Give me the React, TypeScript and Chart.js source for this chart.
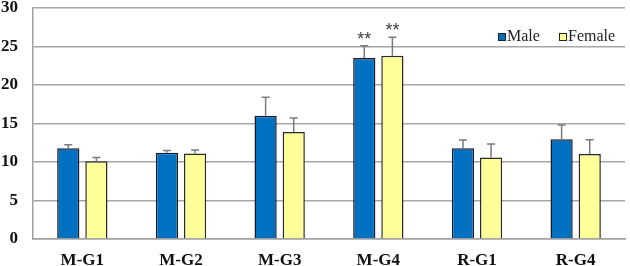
import React, { useEffect, useRef } from "react";
import { Chart, registerables } from "chart.js";

Chart.register(...registerables);

const categories = ["M-G1", "M-G2", "M-G3", "M-G4", "R-G1", "R-G4"];
const maleValues = [11.8, 11.2, 16.0, 23.5, 11.8, 12.95];
const maleErrors = [0.45, 0.3, 2.4, 1.6, 1.05, 1.85];
const femaleValues = [10.1, 11.1, 13.9, 23.8, 10.6, 11.05];
const femaleErrors = [0.5, 0.45, 1.8, 2.4, 1.75, 1.85];
const significance = ["", "", "", "**", "", ""];
const yTicks = [0, 5, 10, 15, 20, 25, 30];

const MALE_COLOR = "#0070C0";
const FEMALE_COLOR = "#FFFF99";

const errorBarPlugin = {
  id: "errorBars",
  afterDatasetsDraw(chart: any) {
    const ctx = chart.ctx;
    const y = chart.scales.y;
    const errs = [maleErrors, femaleErrors];
    ctx.save();
    chart.data.datasets.forEach((ds: any, di: number) => {
      const meta = chart.getDatasetMeta(di);
      meta.data.forEach((bar: any, i: number) => {
        const v = ds.data[i];
        const top = y.getPixelForValue(v + errs[di][i]);
        const base = y.getPixelForValue(v);
        ctx.strokeStyle = "#7a7a7a";
        ctx.lineWidth = 1.5;
        ctx.beginPath();
        ctx.moveTo(bar.x, base);
        ctx.lineTo(bar.x, top);
        ctx.moveTo(bar.x - 4, top);
        ctx.lineTo(bar.x + 4, top);
        ctx.stroke();
        if (significance[i]) {
          ctx.fillStyle = "#404040";
          ctx.font = "18px 'Liberation Sans', Arial, sans-serif";
          ctx.textAlign = "center";
          ctx.textBaseline = "alphabetic";
          ctx.fillText(significance[i], bar.x, top - 1);
        }
      });
    });
    // legend
    const items = [
      { label: "Male", color: MALE_COLOR, x: 498 },
      { label: "Female", color: FEMALE_COLOR, x: 559 },
    ];
    ctx.font = "16px 'Liberation Serif', 'Times New Roman', serif";
    ctx.textAlign = "left";
    ctx.textBaseline = "alphabetic";
    items.forEach((it) => {
      ctx.fillStyle = it.color;
      ctx.fillRect(it.x, 33, 7, 7);
      ctx.strokeStyle = "#222";
      ctx.lineWidth = 1;
      ctx.strokeRect(it.x + 0.5, 33.5, 7, 7);
      ctx.fillStyle = "#222";
      ctx.fillText(it.label, it.x + 9, 41);
    });
    ctx.restore();
  },
};

export default function App() {
  const ref = useRef<HTMLCanvasElement>(null);
  useEffect(() => {
    if (!ref.current) return;
    const chart = new Chart(ref.current, {
      type: "bar",
      data: {
        labels: categories,
        datasets: [
          {
            label: "Male",
            data: maleValues,
            backgroundColor: MALE_COLOR,
            borderColor: "#1a1a2a",
            borderWidth: 1.5,
            categoryPercentage: 0.57,
            barPercentage: 0.79,
          },
          {
            label: "Female",
            data: femaleValues,
            backgroundColor: FEMALE_COLOR,
            borderColor: "#2a2a2a",
            borderWidth: 1.5,
            categoryPercentage: 0.57,
            barPercentage: 0.79,
          },
        ],
      },
      plugins: [errorBarPlugin],
      options: {
        animation: false,
        responsive: false,
        maintainAspectRatio: false,
        layout: { padding: { top: 8, right: 5, left: 0, bottom: 0 } },
        plugins: {
          legend: { display: false },
          tooltip: { enabled: false },
        },
        scales: {
          x: {
            grid: { display: false, drawTicks: false },
            border: { color: "#a0a0a0", width: 1.5 },
            ticks: {
              color: "#111",
              padding: 11,
              font: { family: "'Liberation Serif', 'Times New Roman', serif", size: 17, weight: "bold" },
            },
            afterFit: (s: any) => {
              s.height = 27;
              s.paddingLeft = 0;
              s.paddingRight = 0;
            },
          },
          y: {
            min: 0,
            max: 30,
            afterBuildTicks: (s: any) => {
              s.ticks = yTicks.map((v) => ({ value: v }));
            },
            grid: { color: "#a6a6a6", lineWidth: 1.5, drawTicks: false },
            border: { color: "#a0a0a0", width: 1.5 },
            ticks: {
              color: "#111",
              padding: 15,
              font: { family: "'Liberation Serif', 'Times New Roman', serif", size: 17, weight: "bold" },
            },
            afterFit: (s: any) => {
              s.width = 33;
              s.paddingTop = 0;
              s.paddingBottom = 0;
            },
          },
        },
      },
    });
    return () => chart.destroy();
  }, []);
  return (
    <div style={{ position: "fixed", left: 0, top: 0, width: 630, height: 266, background: "#fff" }}>
      <canvas ref={ref} width={630} height={266} style={{ width: 630, height: 266 }} />
    </div>
  );
}
